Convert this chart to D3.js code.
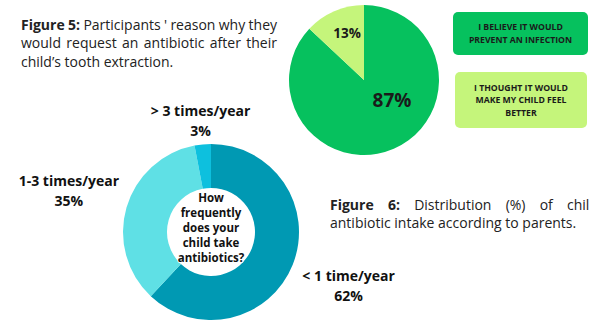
<!DOCTYPE html>
<html>
<head>
<meta charset="utf-8">
<script src="https://cdn.jsdelivr.net/npm/d3@7"></script>
<style>
  body { margin: 0; background: #fff; }
  svg { display: block; font-family: 'Open Sans', sans-serif; }
</style>
</head>
<body>
<div id="my_dataviz"></div>
<script>
// data: figure 5 (pie)
const reasonKeys = ["prevent", "better"];
const reasonValues = [87, 13];
const reasonLegend = [
  ["I BELIEVE IT WOULD", "PREVENT AN INFECTION"],
  ["I THOUGHT IT WOULD", "MAKE MY CHILD FEEL", "BETTER"]
];

// data: figure 6 (donut)
const freqLabels = ["< 1 time/year", "1-3 times/year", "> 3 times/year"];
const freqValues = [62, 35, 3];
const donutTitle = ["How", "frequently", "does your", "child take", "antibiotics?"];

// captions
const caption5 = ["Participants ' reason why they", "would request an antibiotic after their", "child\u2019s tooth extraction."];
const caption6 = ["Distribution (%) of children's", "antibiotic intake according to parents."];

const width = 589, height = 320;

document.addEventListener('DOMContentLoaded', function () {
  const svg = d3.select("#my_dataviz")
    .append("svg")
      .attr("width", width)
      .attr("height", height);

  // ---------- pie (figure 5) ----------
  const pieColor = d3.scaleOrdinal().domain(reasonKeys).range(["#06c15e", "#c5f57b"]);
  const pie = d3.pie().sort(null).value(d => d.value);
  const pieData = pie(reasonKeys.map((k, i) => ({key: k, value: reasonValues[i]})));
  const pieArc = d3.arc().innerRadius(0).outerRadius(75);

  const pg = svg.append("g").attr("transform", "translate(364,80)");
  pg.selectAll("path")
    .data(pieData)
    .join("path")
      .attr("d", pieArc)
      .attr("fill", d => pieColor(d.data.key));

  // percentage labels (hand placed like the original)
  const pieLabelPos = [[28, 27, 19], [-17, -42, 13.5]];
  pg.selectAll("text.pct")
    .data(pieData)
    .join("text")
      .attr("class", "pct")
      .attr("x", (d, i) => pieLabelPos[i][0])
      .attr("y", (d, i) => pieLabelPos[i][1])
      .attr("text-anchor", "middle")
      .style("font-size", (d, i) => pieLabelPos[i][2] + "px")
      .style("font-weight", 700)
      .style("fill", "#1a1a1a")
      .text(d => d.data.value + "%");

  // legend boxes
  const boxes = [{x: 453, y: 12, w: 135, h: 43}, {x: 455, y: 72, w: 132, h: 56}];
  const lg = svg.selectAll("g.legend")
    .data(reasonKeys)
    .join("g")
      .attr("class", "legend")
      .attr("transform", (d, i) => `translate(${boxes[i].x},${boxes[i].y})`);
  lg.append("rect")
    .attr("width", (d, i) => boxes[i].w)
    .attr("height", (d, i) => boxes[i].h)
    .attr("rx", 5)
    .attr("fill", d => pieColor(d));
  lg.each(function (d, i) {
    const lines = reasonLegend[i];
    const b = boxes[i];
    const lh = 12.5;
    const y0 = b.h / 2 - (lines.length - 1) * lh / 2 + 3.2;
    d3.select(this).selectAll("text")
      .data(lines)
      .join("text")
        .attr("x", b.w / 2)
        .attr("y", (t, j) => y0 + j * lh)
        .attr("text-anchor", "middle")
        .style("font-size", "8.7px")
        .style("font-weight", 700)
        .style("fill", "#1a1a1a")
        .text(t => t);
  });

  // ---------- donut (figure 6) ----------
  const donutColor = d3.scaleOrdinal().domain(freqLabels).range(["#0099b3", "#5fe0e5", "#0dc0de"]);
  const donutData = d3.pie().sort(null).value(d => d.value)(
    freqLabels.map((k, i) => ({key: k, value: freqValues[i]})));
  const donutArc = d3.arc().innerRadius(44).outerRadius(88);

  const dg = svg.append("g").attr("transform", "translate(211,232)");
  dg.selectAll("path")
    .data(donutData)
    .join("path")
      .attr("d", donutArc)
      .attr("fill", d => donutColor(d.data.key));

  // outer labels, on the mid angle of each slice
  const labelR = d => (d.endAngle - d.startAngle) < 0.3 ? 111 : 148;
  const outer = dg.selectAll("g.lbl")
    .data(donutData)
    .join("g")
      .attr("class", "lbl")
      .attr("transform", d => {
        const a = (d.startAngle + d.endAngle) / 2;
        return `translate(${Math.sin(a) * labelR(d)},${-Math.cos(a) * labelR(d)})`;
      });
  outer.append("text")
    .attr("y", -5)
    .attr("text-anchor", "middle")
    .style("font-size", "14px")
    .style("font-weight", 700)
    .style("fill", "#111")
    .text(d => d.data.key);
  outer.append("text")
    .attr("y", 15)
    .attr("text-anchor", "middle")
    .style("font-size", "14px")
    .style("font-weight", 700)
    .style("fill", "#111")
    .text(d => d.data.value + "%");

  // centre question
  dg.selectAll("text.title")
    .data(donutTitle)
    .join("text")
      .attr("class", "title")
      .attr("y", (d, i) => -30 + i * 15)
      .attr("text-anchor", "middle")
      .style("font-size", "11.5px")
      .style("font-weight", 700)
      .style("fill", "#111")
      .style("paint-order", "stroke")
      .style("stroke", "#fff")
      .style("stroke-width", 2)
      .text(d => d);

  // ---------- captions ----------
  // target: width to justify a line to; lastStart: x where the last word
  // should begin (the original figure 6 caption runs off the right edge)
  function caption(x, y0, lh, label, lines, target, lastStart) {
    lines.forEach(function (line, i) {
      const t = svg.append("text")
        .attr("x", x)
        .attr("y", y0 + i * lh)
        .style("font-size", "14px")
        .style("fill", "#222");
      if (i === 0) {
        t.append("tspan").style("font-weight", 700).text(label + " ");
      }
      t.append("tspan").text(line);
      const full = (i === 0 ? label + " " : "") + line;
      const spaces = full.split(" ").length - 1;
      const natural = t.node().getComputedTextLength();
      let goal = target[i];
      if (lastStart && lastStart[i]) {
        const words = full.split(" ");
        const probe = svg.append("text").style("font-size", "14px").text(words[words.length - 1]);
        goal = lastStart[i] - x + probe.node().getComputedTextLength();
        probe.remove();
      }
      if (goal) t.style("word-spacing", ((goal - natural) / spaces) + "px");
    });
  }
  caption(21, 29.5, 18.5, "Figure 5:", caption5, [256, 256, null], null);
  caption(330, 209.5, 18, "Figure 6:", caption6, [null, null], [567, null]);
});
</script>
</body>
</html>
